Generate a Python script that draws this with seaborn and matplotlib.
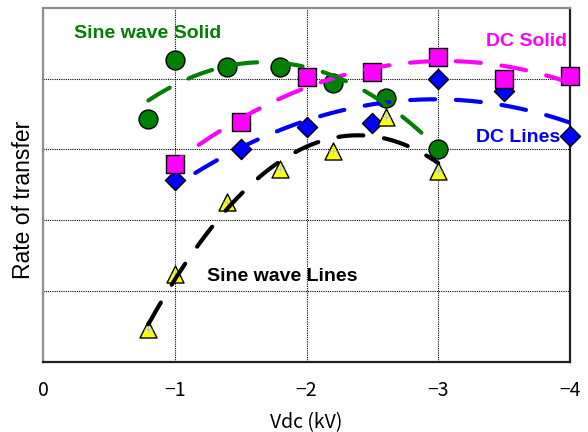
import numpy as np
import pandas as pd
import seaborn as sns
import matplotlib
matplotlib.use("Agg")
import matplotlib.pyplot as plt

# ---- data ----
sine_solid_x = [-0.8, -1.0, -1.4, -1.8, -2.2, -2.6, -3.0]
sine_solid_y = [3.43, 4.27, 4.17, 4.16, 3.94, 3.72, 3.01]

dc_solid_x = [-1.0, -1.5, -2.0, -2.5, -3.0, -3.5, -4.0]
dc_solid_y = [2.80, 3.39, 4.02, 4.10, 4.30, 4.00, 4.04]

dc_lines_x = [-1.0, -1.5, -2.0, -2.5, -3.0, -3.5, -4.0]
dc_lines_y = [2.57, 3.00, 3.31, 3.37, 4.00, 3.82, 3.19]

sine_lines_x = [-0.8, -1.0, -1.4, -1.8, -2.2, -2.6, -3.0]
sine_lines_y = [0.46, 1.24, 2.25, 2.72, 2.98, 3.46, 2.69]

x_ticks = [0, -1, -2, -3, -4]
x_tick_labels = ["0", "\u22121", "\u22122", "\u22123", "\u22124"]
y_grid = [1, 2, 3, 4]

sns.set_style("white")
plt.rcParams["font.family"] = ["Noto Sans CJK JP", "DejaVu Sans"]
plt.rcParams["text.color"] = "black"
plt.rcParams["axes.labelcolor"] = "black"
plt.rcParams["xtick.color"] = "black"

fig = plt.figure(figsize=(5.88, 4.32), dpi=100)
ax = fig.add_axes([43 / 588, 1 - 361.5 / 432, (570 - 43) / 588, (361.5 - 8) / 432])

DASH = (6.0, 5.0)
LW = 3.0


def trend(xs, ys, color, from_left=False):
    c = np.polyfit(xs, ys, 2)
    if from_left:
        xx = np.linspace(max(xs), min(xs), 200)
    else:
        xx = np.linspace(min(xs), max(xs), 200)
    d = pd.DataFrame({"x": xx, "y": np.polyval(c, xx)})
    sns.lineplot(data=d, x="x", y="y", ax=ax, color=color, lw=LW,
                 dashes=False, zorder=5, sort=False)
    ln = ax.lines[-1]
    ln.set_dashes(DASH)
    ln.set_dash_capstyle("round")


# markers
sns.scatterplot(x=dc_lines_x, y=dc_lines_y, ax=ax, marker="D", s=105,
                color="#0000FF", edgecolor="black", linewidth=1.0, zorder=3, clip_on=False)
sns.scatterplot(x=dc_solid_x, y=dc_solid_y, ax=ax, marker="s", s=175,
                color="#FF00FF", edgecolor="black", linewidth=1.0, zorder=3.2, clip_on=False)
sns.scatterplot(x=sine_lines_x, y=sine_lines_y, ax=ax, marker="^", s=150,
                color="#FFFF00", edgecolor="black", linewidth=1.0, zorder=3.4, clip_on=False)
sns.scatterplot(x=sine_lines_x, y=sine_lines_y, ax=ax, marker="+", s=35,
                color="#B8C8E0", linewidth=0.8, zorder=3.5, clip_on=False)
sns.scatterplot(x=sine_solid_x, y=sine_solid_y, ax=ax, marker="o", s=185,
                color="#008000", edgecolor="black", linewidth=1.0, zorder=3.6, clip_on=False)

# trend curves
trend(dc_lines_x, dc_lines_y, "#0000FF")
trend(dc_solid_x, dc_solid_y, "#FF00FF")
trend(sine_lines_x, sine_lines_y, "black", from_left=True)
trend(sine_solid_x, sine_solid_y, "#008000", from_left=True)

ax.set_xlim(0, -4)
ax.set_ylim(0, 5)
ax.set_xticks(x_ticks)
ax.set_xticklabels(x_tick_labels, fontsize=14, color="black")
ax.set_yticks(y_grid)
ax.set_yticklabels([])
ax.tick_params(axis="x", direction="in", length=6, width=1, pad=13, color="black")
ax.tick_params(axis="y", length=0)
ax.grid(True, color="black", linestyle=(0, (1, 1)), linewidth=0.8)
ax.set_axisbelow(True)

for side, col in (("top", "#909090"), ("left", "#909090"), ("right", "#202020"), ("bottom", "#202020")):
    ax.spines[side].set_color(col)
    ax.spines[side].set_linewidth(1.6)
    ax.spines[side].set_visible(True)

ax.set_xlabel("Vdc (kV)", fontsize=14, labelpad=8, color="black")
ax.set_ylabel("Rate of transfer", fontsize=16.5, family=["Liberation Sans"], va="center", color="black")
ax.yaxis.set_label_coords((24 - 43) / 527, (361.5 - 200) / 353.5)

lab = dict(fontsize=14, fontweight="bold", family=["Liberation Sans"], va="center", ha="left", zorder=6)
ax.text(-0.235, 4.64, "Sine wave Solid", color="#008000", **lab)
ax.text(-3.36, 4.53, "DC Solid", color="#FF00FF", **lab)
ax.text(-3.29, 3.17, "DC Lines", color="#0000FF", **lab)
ax.text(-1.245, 1.20, "Sine wave Lines", color="black", **lab)

fig.savefig("out.png", dpi=100)
